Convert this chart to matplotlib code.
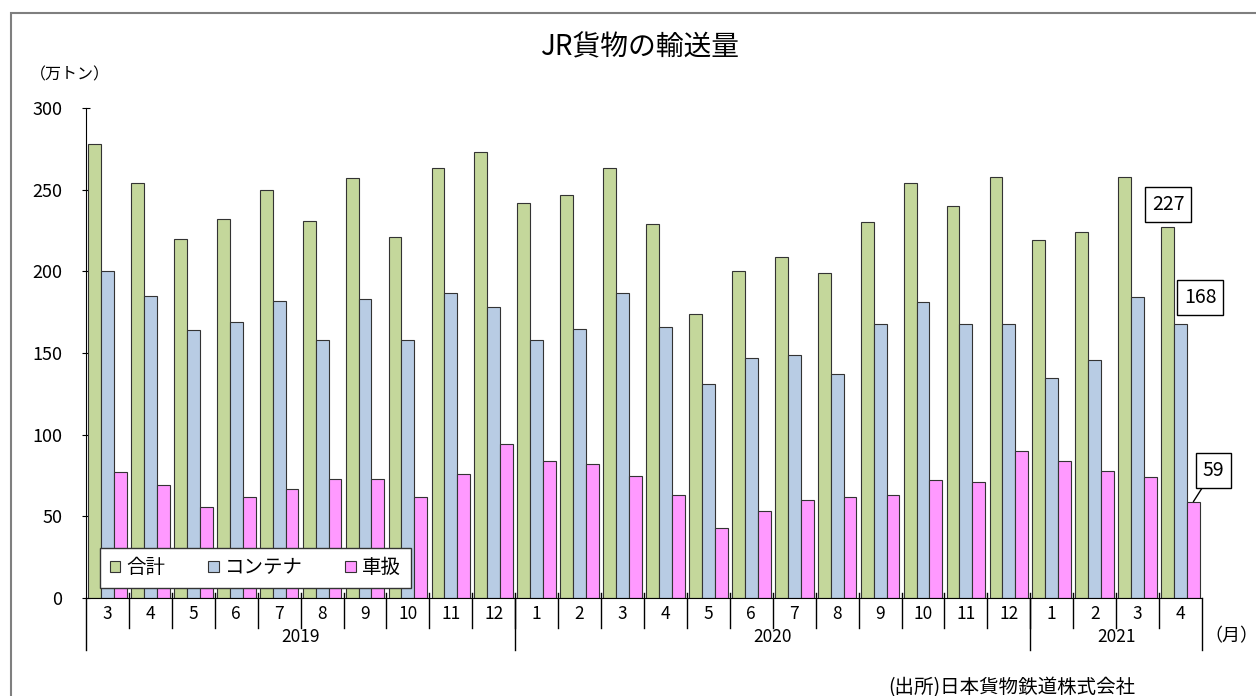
import matplotlib.pyplot as plt
from matplotlib.patches import Rectangle
from matplotlib.transforms import blended_transform_factory

plt.rcParams['font.family'] = ['Noto Sans CJK JP', 'DejaVu Sans']

months = [3, 4, 5, 6, 7, 8, 9, 10, 11, 12,
          1, 2, 3, 4, 5, 6, 7, 8, 9, 10, 11, 12,
          1, 2, 3, 4]
years = ['2019', '2020', '2021']
year_counts = [10, 12, 4]

total = [278, 254, 220, 232, 250, 231, 257, 221, 263, 273,
         242, 247, 263, 229, 174, 200, 209, 199, 230, 254, 240, 258,
         219, 224, 258, 227]
container = [200, 185, 164, 169, 182, 158, 183, 158, 187, 178,
             158, 165, 187, 166, 131, 147, 149, 137, 168, 181, 168, 168,
             135, 146, 184, 168]
wagon = [77, 69, 56, 62, 67, 73, 73, 62, 76, 94,
         84, 82, 75, 63, 43, 53, 60, 62, 63, 72, 71, 90,
         84, 78, 74, 59]

series_names = ['合計', 'コンテナ', '車扱']
colors = ['#C4D79B', '#B8CCE4', '#FF99FF']

fig = plt.figure(figsize=(12.56, 6.96), dpi=100)
ax = fig.add_axes([86 / 1256, 1 - 598 / 696, 1116 / 1256, 490 / 696])

# outer frame (open on right and bottom like the source)
fig.patches.append(Rectangle((11 / 1256, -0.1), 1.2, 1 - 13 / 696 + 0.1,
                             transform=fig.transFigure, fill=False,
                             edgecolor='#7f7f7f', linewidth=1.5))

n = len(months)
x = list(range(n))
w = 0.3
for k, (vals, name, c) in enumerate(zip([total, container, wagon], series_names, colors)):
    ax.bar([i + (k - 1) * w for i in x], vals, width=w, color=c,
           edgecolor='#333333', linewidth=0.8, label=name, zorder=2)

ax.set_xlim(-0.5, n - 0.5)
ax.set_ylim(0, 300)
ax.set_yticks(range(0, 301, 50))
ax.tick_params(axis='y', labelsize=13, direction='inout', length=6, pad=14)
ax.set_xticks([])
ax.spines['top'].set_visible(False)
ax.spines['right'].set_visible(False)
ax.spines['left'].set_color('black')
ax.spines['bottom'].set_color('black')

tr = blended_transform_factory(ax.transData, ax.transAxes)
px = 1 / 490
for i, m in enumerate(months):
    ax.text(i, -16 * px, str(m), transform=tr, ha='center', va='center', fontsize=12.5)
for i in range(1, n):
    ax.plot([i - 0.5, i - 0.5], [5 * px, -30 * px], transform=tr, color='black',
            linewidth=1, clip_on=False, zorder=3)

start = 0
edges = [-0.5]
for yr, cnt in zip(years, year_counts):
    ax.text(start + cnt / 2 - 0.5, -39 * px, yr, transform=tr, ha='center',
            va='center', fontsize=12.5)
    start += cnt
    edges.append(start - 0.5)
for e in edges:
    ax.plot([e, e], [0, -52 * px], transform=tr, color='black', linewidth=1,
            clip_on=False, zorder=3)

ax.text(n - 0.5 + 0.05, -38 * px, '（月）', transform=tr, ha='left', va='center', fontsize=13)

leg = ax.legend(loc='lower left', bbox_to_anchor=(0.0125, 0.0204), ncol=3,
                fontsize=14, frameon=True, fancybox=False, edgecolor='#333333',
                framealpha=1, handlelength=0.55, handleheight=0.55, handletextpad=0.3,
                columnspacing=2.2, borderaxespad=0, borderpad=0.5)
leg.get_frame().set_linewidth(1.0)
leg.set_zorder(5)

bbox = dict(boxstyle='square,pad=0.35', facecolor='white', edgecolor='black', linewidth=1)
last = n - 1
ax.annotate(str(total[last]), xy=(last - w, total[last]), xytext=(24.71, 241),
            ha='center', va='center', fontsize=14, bbox=bbox, annotation_clip=False)
ax.annotate(str(container[last]), xy=(last, container[last]), xytext=(25.46, 184),
            ha='center', va='center', fontsize=14, bbox=bbox, annotation_clip=False)
ax.annotate(str(wagon[last]), xy=(last + w, wagon[last]), xytext=(25.76, 78),
            ha='center', va='center', fontsize=14, bbox=bbox, annotation_clip=False,
            arrowprops=dict(arrowstyle='-', color='black', linewidth=1,
                            shrinkA=0, shrinkB=0))

fig.text(640 / 1256, 1 - 47 / 696, 'JR貨物の輸送量', ha='center', va='center', fontsize=20)
fig.text(30 / 1256, 1 - 75 / 696, '（万トン）', ha='left', va='center', fontsize=11.5)
fig.text(1135 / 1256, 1 - 688 / 696, '(出所)日本貨物鉄道株式会社', ha='right',
         va='center', fontsize=14)

fig.savefig('out.png', dpi=100)
